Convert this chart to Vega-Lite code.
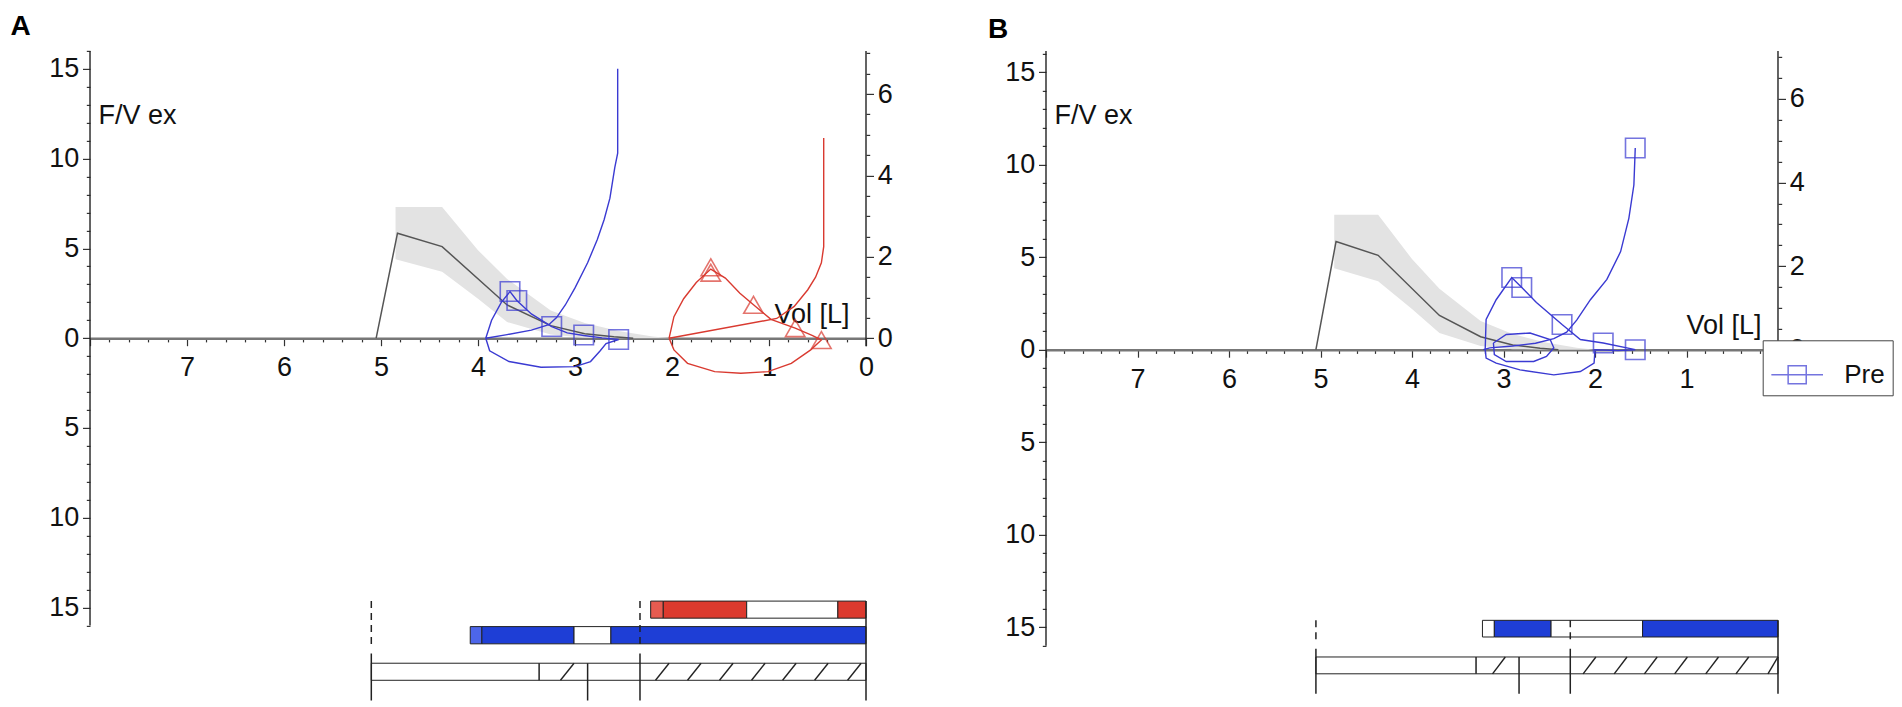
{
  "$schema": "https://vega.github.io/schema/vega-lite/v6.json",
  "background": "white",
  "padding": {"left": 10, "top": 12.9, "right": 5, "bottom": 0},
  "bounds": "flush",
  "spacing": 180,
  "config": {
    "font": "Liberation Sans",
    "view": {"stroke": null},
    "axis": {"grid": false, "labelFont": "Liberation Sans", "labelFontSize": 27, "labelColor": "#111", "tickColor": "#333", "tickWidth": 1.2, "titleFont": "Liberation Sans", "titleFontSize": 27, "titleFontWeight": "normal", "titleColor": "#111", "labelFlush": false, "labelOverlap": false}
  },
  "datasets": {
    "refLine": [
      {"vol": 5.05, "flow": 0}, {"vol": 4.83, "flow": 5.85}, {"vol": 4.37, "flow": 5.1}, {"vol": 3.7, "flow": 1.85},
      {"vol": 3.25, "flow": 0.7}, {"vol": 2.9, "flow": 0.25}, {"vol": 2.6, "flow": 0.08}, {"vol": 2.4, "flow": 0}
    ],
    "refBand": [
      {"vol": 4.85, "flow": 4.4, "flow2": 7.3}, {"vol": 4.37, "flow": 3.7, "flow2": 7.3}, {"vol": 4.0, "flow": 2.2, "flow2": 4.9},
      {"vol": 3.7, "flow": 0.9, "flow2": 3.3}, {"vol": 3.25, "flow": 0.2, "flow2": 1.55}, {"vol": 2.9, "flow": 0.03, "flow2": 0.85},
      {"vol": 2.55, "flow": 0, "flow2": 0.4}, {"vol": 2.2, "flow": 0, "flow2": 0.1}, {"vol": 2.0, "flow": 0, "flow2": 0}
    ],
    "loopsA": [
      {"trial": "Pre", "path": "max", "i": 0, "vol": 2.56, "flow": 15.0},
      {"trial": "Pre", "path": "max", "i": 1, "vol": 2.56, "flow": 10.3},
      {"trial": "Pre", "path": "max", "i": 2, "vol": 2.59, "flow": 9.5},
      {"trial": "Pre", "path": "max", "i": 3, "vol": 2.64, "flow": 7.8},
      {"trial": "Pre", "path": "max", "i": 4, "vol": 2.7, "flow": 6.6},
      {"trial": "Pre", "path": "max", "i": 5, "vol": 2.77, "flow": 5.5},
      {"trial": "Pre", "path": "max", "i": 6, "vol": 2.87, "flow": 4.2},
      {"trial": "Pre", "path": "max", "i": 7, "vol": 3.0, "flow": 2.8},
      {"trial": "Pre", "path": "max", "i": 8, "vol": 3.1, "flow": 1.85},
      {"trial": "Pre", "path": "max", "i": 9, "vol": 3.19, "flow": 1.15},
      {"trial": "Pre", "path": "max", "i": 10, "vol": 3.27, "flow": 0.75},
      {"trial": "Pre", "path": "max", "i": 11, "vol": 3.45, "flow": 0.45},
      {"trial": "Pre", "path": "max", "i": 12, "vol": 3.7, "flow": 0.2},
      {"trial": "Pre", "path": "max", "i": 13, "vol": 3.92, "flow": 0},
      {"trial": "Pre", "path": "tidal", "i": 0, "vol": 3.92, "flow": 0},
      {"trial": "Pre", "path": "tidal", "i": 1, "vol": 3.86, "flow": 1.0},
      {"trial": "Pre", "path": "tidal", "i": 2, "vol": 3.76, "flow": 2.0},
      {"trial": "Pre", "path": "tidal", "i": 3, "vol": 3.67, "flow": 2.6},
      {"trial": "Pre", "path": "tidal", "i": 4, "vol": 3.6, "flow": 2.1},
      {"trial": "Pre", "path": "tidal", "i": 5, "vol": 3.45, "flow": 1.35},
      {"trial": "Pre", "path": "tidal", "i": 6, "vol": 3.24, "flow": 0.65},
      {"trial": "Pre", "path": "tidal", "i": 7, "vol": 3.08, "flow": 0.3},
      {"trial": "Pre", "path": "tidal", "i": 8, "vol": 2.91, "flow": 0.15},
      {"trial": "Pre", "path": "tidal", "i": 9, "vol": 2.72, "flow": 0.02},
      {"trial": "Pre", "path": "tidal", "i": 10, "vol": 2.55, "flow": -0.07},
      {"trial": "Pre", "path": "tidal", "i": 11, "vol": 2.68, "flow": -0.3},
      {"trial": "Pre", "path": "tidal", "i": 12, "vol": 2.74, "flow": -0.7},
      {"trial": "Pre", "path": "tidal", "i": 13, "vol": 2.84, "flow": -1.3},
      {"trial": "Pre", "path": "tidal", "i": 14, "vol": 3.0, "flow": -1.58},
      {"trial": "Pre", "path": "tidal", "i": 15, "vol": 3.35, "flow": -1.62},
      {"trial": "Pre", "path": "tidal", "i": 16, "vol": 3.68, "flow": -1.3},
      {"trial": "Pre", "path": "tidal", "i": 17, "vol": 3.88, "flow": -0.7},
      {"trial": "Pre", "path": "tidal", "i": 18, "vol": 3.92, "flow": 0},
      {"trial": "Post", "path": "max", "i": 0, "vol": 0.436, "flow": 11.15},
      {"trial": "Post", "path": "max", "i": 1, "vol": 0.436, "flow": 5.1},
      {"trial": "Post", "path": "max", "i": 2, "vol": 0.46, "flow": 4.2},
      {"trial": "Post", "path": "max", "i": 3, "vol": 0.52, "flow": 3.4},
      {"trial": "Post", "path": "max", "i": 4, "vol": 0.6, "flow": 2.7},
      {"trial": "Post", "path": "max", "i": 5, "vol": 0.74, "flow": 1.77},
      {"trial": "Post", "path": "max", "i": 6, "vol": 0.92, "flow": 1.1},
      {"trial": "Post", "path": "max", "i": 7, "vol": 2.03, "flow": 0},
      {"trial": "Post", "path": "tidal", "i": 0, "vol": 2.03, "flow": 0},
      {"trial": "Post", "path": "tidal", "i": 1, "vol": 1.98, "flow": 1.2},
      {"trial": "Post", "path": "tidal", "i": 2, "vol": 1.88, "flow": 2.2},
      {"trial": "Post", "path": "tidal", "i": 3, "vol": 1.75, "flow": 3.1},
      {"trial": "Post", "path": "tidal", "i": 4, "vol": 1.6, "flow": 3.85},
      {"trial": "Post", "path": "tidal", "i": 5, "vol": 1.45, "flow": 3.35},
      {"trial": "Post", "path": "tidal", "i": 6, "vol": 1.3, "flow": 2.5},
      {"trial": "Post", "path": "tidal", "i": 7, "vol": 1.16, "flow": 1.86},
      {"trial": "Post", "path": "tidal", "i": 8, "vol": 0.98, "flow": 1.05},
      {"trial": "Post", "path": "tidal", "i": 9, "vol": 0.73, "flow": 0.56},
      {"trial": "Post", "path": "tidal", "i": 10, "vol": 0.55, "flow": 0.15},
      {"trial": "Post", "path": "tidal", "i": 11, "vol": 0.46, "flow": -0.1},
      {"trial": "Post", "path": "tidal", "i": 12, "vol": 0.57, "flow": -0.65},
      {"trial": "Post", "path": "tidal", "i": 13, "vol": 0.77, "flow": -1.4},
      {"trial": "Post", "path": "tidal", "i": 14, "vol": 1.01, "flow": -1.86},
      {"trial": "Post", "path": "tidal", "i": 15, "vol": 1.29, "flow": -1.95},
      {"trial": "Post", "path": "tidal", "i": 16, "vol": 1.56, "flow": -1.86},
      {"trial": "Post", "path": "tidal", "i": 17, "vol": 1.84, "flow": -1.4},
      {"trial": "Post", "path": "tidal", "i": 18, "vol": 1.98, "flow": -0.65},
      {"trial": "Post", "path": "tidal", "i": 19, "vol": 2.03, "flow": 0}
    ],
    "markersA": [
      {"trial": "Pre", "vol": 3.67, "flow": 2.6}, {"trial": "Pre", "vol": 3.6, "flow": 2.1}, {"trial": "Pre", "vol": 3.24, "flow": 0.65},
      {"trial": "Pre", "vol": 2.91, "flow": 0.18}, {"trial": "Pre", "vol": 2.55, "flow": -0.07},
      {"trial": "Post", "vol": 1.6, "flow": 3.95}, {"trial": "Post", "vol": 1.6, "flow": 3.65}, {"trial": "Post", "vol": 1.16, "flow": 1.86},
      {"trial": "Post", "vol": 0.73, "flow": 0.56}, {"trial": "Post", "vol": 0.46, "flow": -0.1}
    ],
    "barsA": [
      {"lane": "Post", "kind": "postStart", "vol": 2.22, "vol2": 2.09, "flow": -15.59, "flow2": -14.64},
      {"lane": "Post", "kind": "post", "vol": 2.09, "vol2": 1.23, "flow": -15.59, "flow2": -14.64},
      {"lane": "Post", "kind": "gap", "vol": 1.23, "vol2": 0.29, "flow": -15.59, "flow2": -14.64},
      {"lane": "Post", "kind": "post", "vol": 0.29, "vol2": 0, "flow": -15.59, "flow2": -14.64},
      {"lane": "Pre", "kind": "preStart", "vol": 4.08, "vol2": 3.96, "flow": -17.02, "flow2": -16.06},
      {"lane": "Pre", "kind": "pre", "vol": 3.96, "vol2": 3.01, "flow": -17.02, "flow2": -16.06},
      {"lane": "Pre", "kind": "gap", "vol": 3.01, "vol2": 2.63, "flow": -17.02, "flow2": -16.06},
      {"lane": "Pre", "kind": "pre", "vol": 2.63, "vol2": 0, "flow": -17.02, "flow2": -16.06},
      {"lane": "Ref", "kind": "gap", "vol": 5.1, "vol2": 0, "flow": -19.05, "flow2": -18.1}
    ],
    "rulesA": [
      {"vol": 5.1, "flow": -14.64, "flow2": -17.15, "style": "dashed"},
      {"vol": 5.1, "flow": -17.56, "flow2": -20.18, "style": "solid"},
      {"vol": 2.33, "flow": -14.64, "flow2": -17.15, "style": "dashed"},
      {"vol": 2.33, "flow": -17.56, "flow2": -20.18, "style": "solid"},
      {"vol": 2.87, "flow": -18.1, "flow2": -20.17, "style": "solid"},
      {"vol": 3.37, "flow": -18.1, "flow2": -19.05, "style": "solid"},
      {"vol": 0, "flow": -14.64, "flow2": -20.18, "style": "solid"}
    ],
    "hatchA": [
      {"vol": 3.15, "vol2": 3.01, "flow": -19.05, "flow2": -18.1},
      {"vol": 2.17, "vol2": 2.03, "flow": -19.05, "flow2": -18.1},
      {"vol": 1.84, "vol2": 1.7, "flow": -19.05, "flow2": -18.1},
      {"vol": 1.51, "vol2": 1.37, "flow": -19.05, "flow2": -18.1},
      {"vol": 1.18, "vol2": 1.04, "flow": -19.05, "flow2": -18.1},
      {"vol": 0.86, "vol2": 0.72, "flow": -19.05, "flow2": -18.1},
      {"vol": 0.53, "vol2": 0.39, "flow": -19.05, "flow2": -18.1},
      {"vol": 0.19, "vol2": 0.05, "flow": -19.05, "flow2": -18.1}
    ],
    "axisLineA": [{"vol": 8, "flow": -16, "flow2": 16}],
    "rightA": [{"vol": 0, "r": -0.2, "r2": 7.06}],
    "loopsB": [
      {"path": "max", "i": 0, "vol": 1.56, "flow": 10.9},
      {"path": "max", "i": 1, "vol": 1.575, "flow": 8.9},
      {"path": "max", "i": 2, "vol": 1.63, "flow": 7.1},
      {"path": "max", "i": 3, "vol": 1.72, "flow": 5.3},
      {"path": "max", "i": 4, "vol": 1.87, "flow": 3.8},
      {"path": "max", "i": 5, "vol": 2.05, "flow": 2.7},
      {"path": "max", "i": 6, "vol": 2.2, "flow": 1.6},
      {"path": "max", "i": 7, "vol": 2.31, "flow": 0.95},
      {"path": "max", "i": 8, "vol": 2.45, "flow": 0.6},
      {"path": "max", "i": 9, "vol": 2.65, "flow": 0.35},
      {"path": "max", "i": 10, "vol": 2.9, "flow": 0.2},
      {"path": "max", "i": 11, "vol": 3.15, "flow": 0.1},
      {"path": "max", "i": 12, "vol": 3.22, "flow": 0},
      {"path": "tidal", "i": 0, "vol": 3.2, "flow": 0},
      {"path": "tidal", "i": 1, "vol": 3.19, "flow": 1.64},
      {"path": "tidal", "i": 2, "vol": 3.08, "flow": 2.7},
      {"path": "tidal", "i": 3, "vol": 2.91, "flow": 3.9},
      {"path": "tidal", "i": 4, "vol": 2.8, "flow": 3.36},
      {"path": "tidal", "i": 5, "vol": 2.64, "flow": 2.55},
      {"path": "tidal", "i": 6, "vol": 2.36, "flow": 1.36},
      {"path": "tidal", "i": 7, "vol": 2.16, "flow": 0.55},
      {"path": "tidal", "i": 8, "vol": 1.91, "flow": 0.36},
      {"path": "tidal", "i": 9, "vol": 1.56, "flow": 0},
      {"path": "tidal", "i": 10, "vol": 1.75, "flow": -0.05},
      {"path": "tidal", "i": 11, "vol": 2.0, "flow": 0},
      {"path": "tidal", "i": 12, "vol": 2.01, "flow": -0.73},
      {"path": "tidal", "i": 13, "vol": 2.16, "flow": -1.18},
      {"path": "tidal", "i": 14, "vol": 2.45, "flow": -1.36},
      {"path": "tidal", "i": 15, "vol": 2.82, "flow": -1.09},
      {"path": "tidal", "i": 16, "vol": 3.08, "flow": -0.73},
      {"path": "tidal", "i": 17, "vol": 3.19, "flow": -0.45},
      {"path": "tidal", "i": 18, "vol": 3.2, "flow": 0},
      {"path": "inner", "i": 0, "vol": 3.11, "flow": 0.36},
      {"path": "inner", "i": 1, "vol": 2.97, "flow": 0.82},
      {"path": "inner", "i": 2, "vol": 2.71, "flow": 0.9},
      {"path": "inner", "i": 3, "vol": 2.49, "flow": 0.55},
      {"path": "inner", "i": 4, "vol": 2.45, "flow": 0.1},
      {"path": "inner", "i": 5, "vol": 2.53, "flow": -0.36},
      {"path": "inner", "i": 6, "vol": 2.67, "flow": -0.64},
      {"path": "inner", "i": 7, "vol": 2.97, "flow": -0.64},
      {"path": "inner", "i": 8, "vol": 3.1, "flow": -0.27},
      {"path": "inner", "i": 9, "vol": 3.11, "flow": 0.36}
    ],
    "markersB": [
      {"trial": "Pre", "vol": 2.91, "flow": 3.9}, {"trial": "Pre", "vol": 2.8, "flow": 3.36}, {"trial": "Pre", "vol": 2.36, "flow": 1.36},
      {"trial": "Pre", "vol": 1.91, "flow": 0.36}, {"trial": "Pre", "vol": 1.56, "flow": 0.0}, {"trial": "Pre", "vol": 1.56, "flow": 10.9}
    ],
    "barsB": [
      {"lane": "Pre", "kind": "gap", "vol": 3.23, "vol2": 3.1, "flow": -15.53, "flow2": -14.63},
      {"lane": "Pre", "kind": "pre", "vol": 3.1, "vol2": 2.48, "flow": -15.53, "flow2": -14.63},
      {"lane": "Pre", "kind": "gap", "vol": 2.48, "vol2": 1.48, "flow": -15.53, "flow2": -14.63},
      {"lane": "Pre", "kind": "pre", "vol": 1.48, "vol2": 0, "flow": -15.53, "flow2": -14.63},
      {"lane": "Ref", "kind": "gap", "vol": 5.05, "vol2": 0, "flow": -17.52, "flow2": -16.61}
    ],
    "rulesB": [
      {"vol": 5.05, "flow": -14.63, "flow2": -15.9, "style": "dashed"},
      {"vol": 5.05, "flow": -16.16, "flow2": -18.6, "style": "solid"},
      {"vol": 2.27, "flow": -14.63, "flow2": -15.9, "style": "dashed"},
      {"vol": 2.27, "flow": -16.16, "flow2": -18.6, "style": "solid"},
      {"vol": 2.83, "flow": -16.61, "flow2": -18.6, "style": "solid"},
      {"vol": 3.3, "flow": -16.61, "flow2": -17.52, "style": "solid"},
      {"vol": 0, "flow": -14.63, "flow2": -18.6, "style": "solid"}
    ],
    "hatchB": [
      {"vol": 3.12, "vol2": 2.98, "flow": -17.52, "flow2": -16.61},
      {"vol": 2.13, "vol2": 1.99, "flow": -17.52, "flow2": -16.61},
      {"vol": 1.79, "vol2": 1.65, "flow": -17.52, "flow2": -16.61},
      {"vol": 1.46, "vol2": 1.32, "flow": -17.52, "flow2": -16.61},
      {"vol": 1.13, "vol2": 0.99, "flow": -17.52, "flow2": -16.61},
      {"vol": 0.79, "vol2": 0.65, "flow": -17.52, "flow2": -16.61},
      {"vol": 0.46, "vol2": 0.32, "flow": -17.52, "flow2": -16.61},
      {"vol": 0.11, "vol2": 0.0, "flow": -17.52, "flow2": -16.61}
    ],
    "axisLineB": [{"vol": 8, "flow": -16, "flow2": 16.15}],
    "rightB": [{"vol": 0, "r": -0.2, "r2": 7.15}]
  },
  "resolve": {"scale": {"color": "independent", "fill": "independent", "stroke": "independent", "shape": "independent", "strokeDash": "independent"}, "legend": {"color": "independent"}},
  "hconcat": [
    {
      "width": 776,
      "height": 654,
      "title": {"text": "A", "anchor": "start", "frame": "group", "dx": -79.4, "offset": -26.6, "baseline": "alphabetic", "fontSize": 28, "fontWeight": "bold", "color": "#000", "font": "Liberation Sans"},
      "layer": [
        {
          "encoding": {
            "x": {"field": "vol", "type": "quantitative", "scale": {"domain": [0, 8], "reverse": true, "nice": false, "zero": false},
              "axis": {"orient": "bottom", "offset": -366.7, "values": [0,0.2,0.4,0.6,0.8,1,1.2,1.4,1.6,1.8,2,2.2,2.4,2.6,2.8,3,3.2,3.4,3.6,3.8,4,4.2,4.4,4.6,4.8,5,5.2,5.4,5.6,5.8,6,6.2,6.4,6.6,6.8,7,7.2,7.4,7.6,7.8,8],
                "labelExpr": "datum.value % 1 === 0 && datum.value < 8 ? format(datum.value, 'd') : ''",
                "tickSize": {"condition": {"test": "datum.value % 1 === 0", "value": 7.5}, "value": 3.7},
                "labelPadding": 9, "domainColor": "#777", "domainWidth": 2.4,
                "title": "Vol [L]", "titleX": 759, "titleY": -23.5, "titleAlign": "right", "titleBaseline": "middle", "titleAnchor": "end"}},
            "y": {"field": "flow", "type": "quantitative", "scale": {"domain": [-20.42, 16], "nice": false, "zero": false},
              "axis": {"orient": "left", "values": [-16,-15,-14,-13,-12,-11,-10,-9,-8,-7,-6,-5,-4,-3,-2,-1,0,1,2,3,4,5,6,7,8,9,10,11,12,13,14,15,16],
                "labelExpr": "datum.value % 5 === 0 ? abs(datum.value) : ''",
                "tickSize": {"condition": {"test": "datum.value % 5 === 0", "value": 7.5}, "value": 3.7},
                "labelPadding": 3.7, "domain": false,
                "title": "F/V ex", "titleAngle": 0, "titleX": 8, "titleY": 65, "titleAlign": "left", "titleBaseline": "middle"}}
          },
          "layer": [
            {"data": {"name": "refBand"}, "mark": {"type": "area", "color": "#e3e3e3"}, "encoding": {"y2": {"field": "flow2"}}},
            {"data": {"name": "refLine"}, "mark": {"type": "line", "color": "#555555", "strokeWidth": 1.5}},
            {"data": {"name": "loopsA"}, "mark": {"type": "line", "strokeWidth": 1.4},
              "encoding": {"detail": {"field": "path"}, "order": {"field": "i", "type": "quantitative"},
                "stroke": {"field": "trial", "type": "nominal", "scale": {"domain": ["Pre", "Post"], "range": ["#3a3ad2", "#d93a30"]}, "legend": null}}},
            {"data": {"name": "markersA"}, "mark": {"type": "point", "filled": false, "size": 380, "strokeWidth": 1.6},
              "encoding": {"shape": {"field": "trial", "type": "nominal", "scale": {"domain": ["Pre", "Post"], "range": ["square", "triangle-up"]}, "legend": null},
                "stroke": {"field": "trial", "type": "nominal", "scale": {"domain": ["Pre", "Post"], "range": ["#3a3ad2", "#d93a30"]}, "legend": null}}},
            {"data": {"name": "barsA"}, "mark": {"type": "rect", "stroke": "#222222", "strokeWidth": 1},
              "encoding": {"x2": {"field": "vol2"}, "y2": {"field": "flow2"},
                "fill": {"field": "kind", "type": "nominal", "scale": {"domain": ["postStart", "post", "gap", "preStart", "pre"], "range": ["#e65b50", "#dc3a2e", "#ffffff", "#4d66ea", "#1e3ed6"]}, "legend": null}}},
            {"data": {"name": "rulesA"}, "mark": {"type": "rule", "color": "#222222", "strokeWidth": 1.5},
              "encoding": {"y2": {"field": "flow2"},
                "strokeDash": {"field": "style", "type": "nominal", "scale": {"domain": ["dashed", "solid"], "range": [[7, 5], [1, 0]]}, "legend": null}}},
            {"data": {"name": "hatchA"}, "mark": {"type": "rule", "color": "#222222", "strokeWidth": 1.4},
              "encoding": {"x2": {"field": "vol2"}, "y2": {"field": "flow2"}}},
            {"data": {"name": "axisLineA"}, "mark": {"type": "rule", "color": "#222222", "strokeWidth": 1.4},
              "encoding": {"y2": {"field": "flow2"}}}
          ]
        },
        {
          "data": {"name": "rightA"},
          "mark": {"type": "rule", "color": "#222222", "strokeWidth": 1.4},
          "encoding": {
            "x": {"field": "vol", "type": "quantitative", "scale": {"domain": [0, 8], "reverse": true, "nice": false, "zero": false},
              "axis": {"orient": "bottom", "offset": -366.7, "values": [0,0.2,0.4,0.6,0.8,1,1.2,1.4,1.6,1.8,2,2.2,2.4,2.6,2.8,3,3.2,3.4,3.6,3.8,4,4.2,4.4,4.6,4.8,5,5.2,5.4,5.6,5.8,6,6.2,6.4,6.6,6.8,7,7.2,7.4,7.6,7.8,8],
                "labelExpr": "datum.value % 1 === 0 && datum.value < 8 ? format(datum.value, 'd') : ''",
                "tickSize": {"condition": {"test": "datum.value % 1 === 0", "value": 7.5}, "value": 3.7},
                "labelPadding": 9, "domainColor": "#777", "domainWidth": 2.4,
                "title": "Vol [L]", "titleX": 759, "titleY": -23.5, "titleAlign": "right", "titleBaseline": "middle", "titleAnchor": "end"}},
            "y": {"field": "r", "type": "quantitative", "scale": {"domain": [-9.01, 7.06], "nice": false, "zero": false},
              "axis": {"orient": "right", "values": [0,0.5,1,1.5,2,2.5,3,3.5,4,4.5,5,5.5,6,6.5,7],
                "labelExpr": "datum.value % 2 === 0 ? datum.label : ''",
                "tickSize": {"condition": {"test": "datum.value % 2 === 0", "value": 7.5}, "value": 3.7},
                "labelPadding": 3.7, "domain": false, "title": null}},
            "y2": {"field": "r2"}
          }
        }
      ],
      "resolve": {"scale": {"y": "independent"}}
    },
    {
      "width": 732,
      "height": 654,
      "title": {"text": "B", "anchor": "start", "frame": "group", "dx": -58, "offset": -26.6, "baseline": "alphabetic", "fontSize": 28, "fontWeight": "bold", "color": "#000", "font": "Liberation Sans"},
      "layer": [
        {
          "encoding": {
            "x": {"field": "vol", "type": "quantitative", "scale": {"domain": [0, 8], "reverse": true, "nice": false, "zero": false},
              "axis": {"orient": "bottom", "offset": -355.2, "values": [0,0.2,0.4,0.6,0.8,1,1.2,1.4,1.6,1.8,2,2.2,2.4,2.6,2.8,3,3.2,3.4,3.6,3.8,4,4.2,4.4,4.6,4.8,5,5.2,5.4,5.6,5.8,6,6.2,6.4,6.6,6.8,7,7.2,7.4,7.6,7.8,8],
                "labelExpr": "datum.value % 1 === 0 && datum.value < 8 && datum.value > 0 ? format(datum.value, 'd') : ''",
                "tickSize": {"condition": {"test": "datum.value % 1 === 0", "value": 7.5}, "value": 3.7},
                "labelPadding": 9, "domainColor": "#777", "domainWidth": 2.4,
                "title": "Vol [L]", "titleX": 715, "titleY": -24.5, "titleAlign": "right", "titleBaseline": "middle", "titleAnchor": "end"}},
            "y": {"field": "flow", "type": "quantitative", "scale": {"domain": [-19.2, 16.15], "nice": false, "zero": false},
              "axis": {"orient": "left", "values": [-16,-15,-14,-13,-12,-11,-10,-9,-8,-7,-6,-5,-4,-3,-2,-1,0,1,2,3,4,5,6,7,8,9,10,11,12,13,14,15,16],
                "labelExpr": "datum.value % 5 === 0 ? abs(datum.value) : ''",
                "tickSize": {"condition": {"test": "datum.value % 5 === 0", "value": 7.5}, "value": 3.7},
                "labelPadding": 3.7, "domain": false,
                "title": "F/V ex", "titleAngle": 0, "titleX": 8, "titleY": 65, "titleAlign": "left", "titleBaseline": "middle"}}
          },
          "layer": [
            {"data": {"name": "refBand"}, "mark": {"type": "area", "color": "#e3e3e3"}, "encoding": {"y2": {"field": "flow2"}}},
            {"data": {"name": "refLine"}, "mark": {"type": "line", "color": "#555555", "strokeWidth": 1.5}},
            {"data": {"name": "loopsB"}, "mark": {"type": "line", "strokeWidth": 1.4, "color": "#3a3ad2"},
              "encoding": {"detail": {"field": "path"}, "order": {"field": "i", "type": "quantitative"}}},
            {"data": {"name": "markersB"}, "mark": {"type": "point", "filled": false, "shape": "square", "size": 380, "strokeWidth": 1.6},
              "encoding": {"color": {"field": "trial", "type": "nominal", "scale": {"domain": ["Pre"], "range": ["#3a3ad2"]},
                "legend": {"title": null, "orient": "none", "legendX": 716.7, "legendY": 289.4, "strokeColor": "#444444", "fillColor": "white", "padding": 7.5,
                  "symbolType": "M-1,0L1,0M-0.35,-0.35L0.35,-0.35L0.35,0.35L-0.35,0.35Z", "symbolSize": 2670, "symbolStrokeWidth": 1.5, "symbolFillColor": "transparent",
                  "labelFontSize": 26, "labelFont": "Liberation Sans", "labelColor": "#111", "labelOffset": 20}}}},
            {"data": {"name": "barsB"}, "mark": {"type": "rect", "stroke": "#222222", "strokeWidth": 1},
              "encoding": {"x2": {"field": "vol2"}, "y2": {"field": "flow2"},
                "fill": {"field": "kind", "type": "nominal", "scale": {"domain": ["gap", "pre"], "range": ["#ffffff", "#1e3ed6"]}, "legend": null}}},
            {"data": {"name": "rulesB"}, "mark": {"type": "rule", "color": "#222222", "strokeWidth": 1.5},
              "encoding": {"y2": {"field": "flow2"},
                "strokeDash": {"field": "style", "type": "nominal", "scale": {"domain": ["dashed", "solid"], "range": [[7, 5], [1, 0]]}, "legend": null}}},
            {"data": {"name": "hatchB"}, "mark": {"type": "rule", "color": "#222222", "strokeWidth": 1.4},
              "encoding": {"x2": {"field": "vol2"}, "y2": {"field": "flow2"}}},
            {"data": {"name": "axisLineB"}, "mark": {"type": "rule", "color": "#222222", "strokeWidth": 1.4},
              "encoding": {"y2": {"field": "flow2"}}}
          ]
        },
        {
          "data": {"name": "rightB"},
          "mark": {"type": "rule", "color": "#222222", "strokeWidth": 1.4},
          "encoding": {
            "x": {"field": "vol", "type": "quantitative", "scale": {"domain": [0, 8], "reverse": true, "nice": false, "zero": false},
              "axis": {"orient": "bottom", "offset": -355.2, "values": [0,0.2,0.4,0.6,0.8,1,1.2,1.4,1.6,1.8,2,2.2,2.4,2.6,2.8,3,3.2,3.4,3.6,3.8,4,4.2,4.4,4.6,4.8,5,5.2,5.4,5.6,5.8,6,6.2,6.4,6.6,6.8,7,7.2,7.4,7.6,7.8,8],
                "labelExpr": "datum.value % 1 === 0 && datum.value < 8 && datum.value > 0 ? format(datum.value, 'd') : ''",
                "tickSize": {"condition": {"test": "datum.value % 1 === 0", "value": 7.5}, "value": 3.7},
                "labelPadding": 9, "domainColor": "#777", "domainWidth": 2.4,
                "title": "Vol [L]", "titleX": 715, "titleY": -24.5, "titleAlign": "right", "titleBaseline": "middle", "titleAnchor": "end"}},
            "y": {"field": "r", "type": "quantitative", "scale": {"domain": [-8.5, 7.15], "nice": false, "zero": false},
              "axis": {"orient": "right", "values": [0,0.5,1,1.5,2,2.5,3,3.5,4,4.5,5,5.5,6,6.5,7],
                "labelExpr": "datum.value % 2 === 0 ? datum.label : ''",
                "tickSize": {"condition": {"test": "datum.value % 2 === 0", "value": 7.5}, "value": 3.7},
                "labelPadding": 3.7, "domain": false, "title": null}},
            "y2": {"field": "r2"}
          }
        }
      ],
      "resolve": {"scale": {"y": "independent"}}
    }
  ]
}
